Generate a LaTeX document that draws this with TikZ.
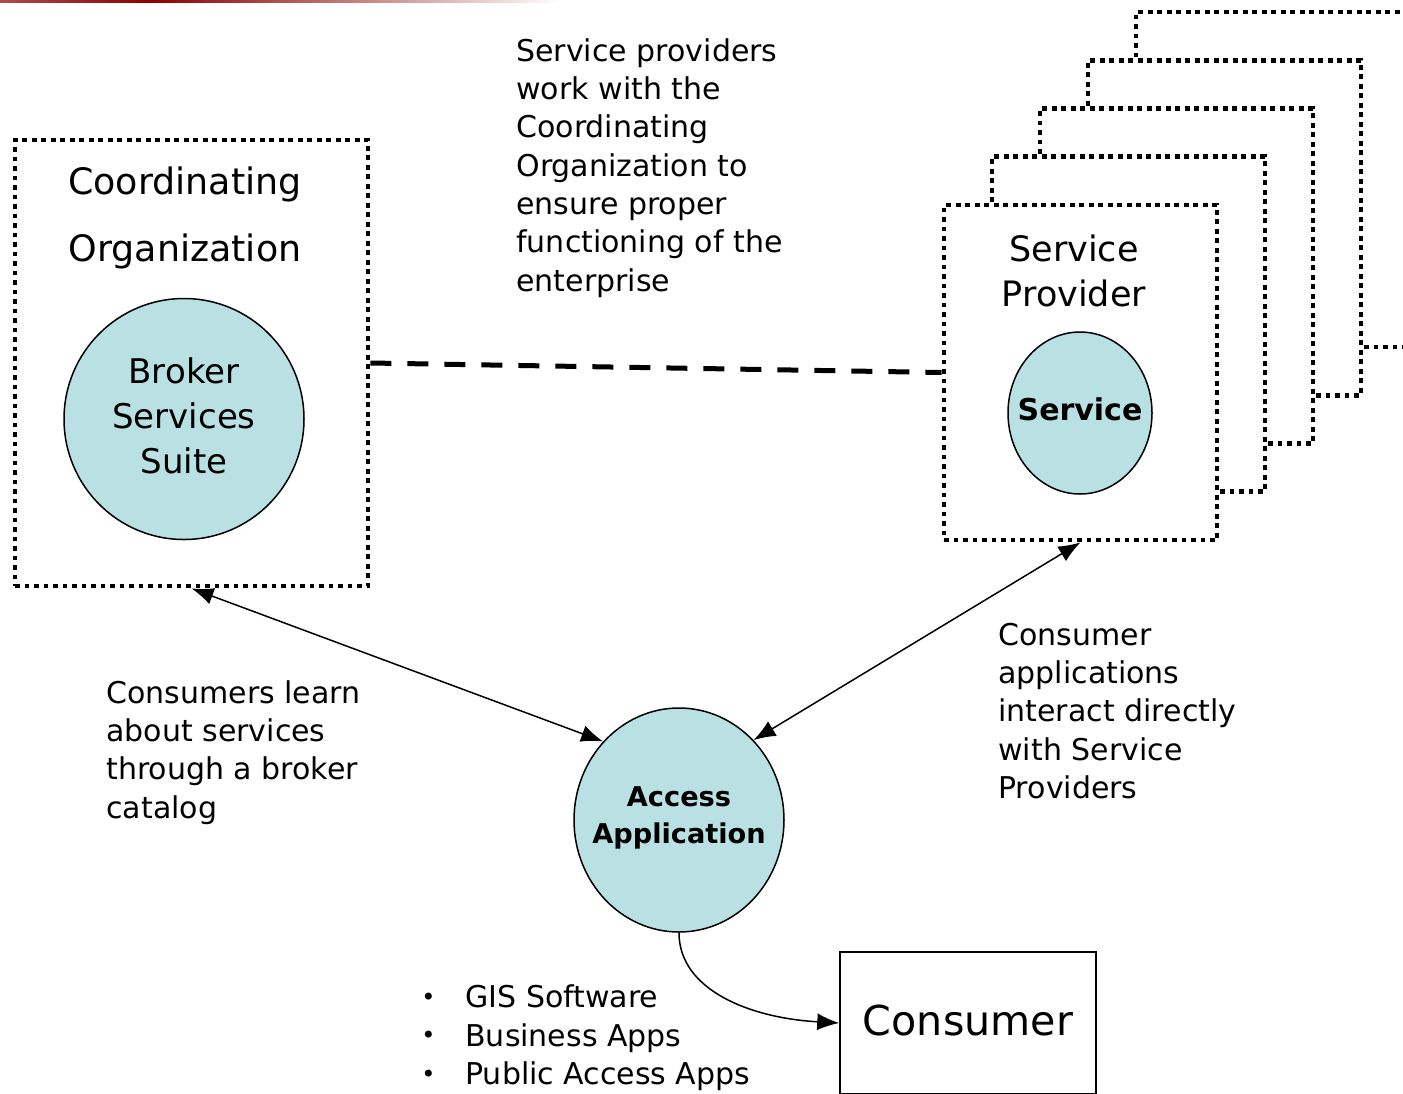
\documentclass[tikz,border=0pt]{standalone}
\usepackage{fontspec}
\setmainfont{DejaVu Sans}
\usetikzlibrary{shapes.geometric,arrows.meta}
\definecolor{bubblefill}{HTML}{B9E0E3}
\definecolor{slidered}{HTML}{8B0000}

\begin{document}
\begin{tikzpicture}[x=0.5pt,y=-0.5pt,
  dotbox/.style={draw, line width=2.4pt, dash pattern=on 2.4pt off 2.35pt, fill=white, inner sep=0},
  bubble/.style={ellipse, draw, line width=0.75pt, fill=bubblefill, inner sep=0},
  inlabel/.style={align=center, inner sep=0},
  body/.style={font=\fontsize{15}{19.15}\selectfont, align=left, inner sep=0},
  link/.style={line width=0.75pt, {Latex[length=11pt,width=8.5pt]}-{Latex[length=11pt,width=8.5pt]}},
  bul/.style={},
]
\useasboundingbox (0,0) rectangle (1403,1093);
\clip (0,0) rectangle (1403,1093);

% title rule of the slide
\shade[left color=slidered!70!white, right color=slidered] (0,0) rectangle (150,2.5);
\shade[left color=slidered, right color=white] (150,0) rectangle (560,2.5);

% coordinating organization
\node[dotbox, minimum width=176.5pt, minimum height=223pt] (coord) at (191.5,363) {};
\node[font=\fontsize{18.2}{33.5}\selectfont, inlabel] (coordlbl) at (185,217.5)
  {Coordinating\\Organization};
\node[bubble, minimum width=120pt, minimum height=120.5pt] (broker) at (184,419) {};
\node[inlabel, font=\fontsize{17}{22.5}\selectfont] (brokerlbl) at (184,416) {Broker\\Services\\Suite};

% stack of service providers, back to front
\foreach \i in {4,3,2,1,0} {
  \node[dotbox, minimum width=136.5pt, minimum height=167.5pt] (prov\i) at ({1080.5+48*\i},{372.5-48.25*\i}) {};
}
\node[font=\fontsize{17.5}{22.5}\selectfont, inlabel] (provlbl) at (1074,270.5)
  {Service\\Provider};
\node[bubble, minimum width=72pt, minimum height=81pt] (service) at (1080,413) {};
\node[inlabel, font=\bfseries\fontsize{15}{18}\selectfont] (servicelbl) at (1080,409) {Service};

% access application and consumer
\node[bubble, minimum width=105pt, minimum height=112pt] (access) at (679,820) {};
\node[inlabel, font=\bfseries\fontsize{13.6}{18.5}\selectfont] (accesslbl) at (679,817.5)
  {Access\\Application};
\node[draw, line width=0.75pt, minimum width=128pt, minimum height=71pt, inner sep=0] (consumer) at (968,1023) {};
\node[font=\fontsize{20.6}{24}\selectfont, inner sep=0] (consumerlbl) at (968,1020) {Consumer};

% connectors
\draw[line width=2.5pt, dash pattern=on 10.5pt off 8pt] (coord.east) -- (prov0.west);
\draw[link] (coord.south) -- (access.134);
\draw[link] (prov0.south) -- (access.47);
\draw[line width=0.75pt, -{Latex[length=11pt,width=8.5pt]}] (access.south)
  .. controls (679,990) and (750,1018) .. (consumer.west);

% annotations
\node[body, anchor=west] (notecoord) at (516,168)
  {Service providers\\work with the\\Coordinating\\Organization to\\ensure proper\\functioning of the\\enterprise};
\node[body, anchor=west] (notelearn) at (106,752.5)
  {Consumers learn\\about services\\through a broker\\catalog};
\node[body, anchor=west] (notedirect) at (998,711)
  {Consumer\\applications\\interact directly\\with Service\\Providers};
\newcommand\appbullet{\makebox[22pt][l]{\raisebox{1.2pt}{\fontsize{12}{12}\selectfont •}}}
\node[body, anchor=west] (apps) at (421,1038)
  {\appbullet GIS Software\\
   \appbullet Business Apps\\
   \appbullet Public Access Apps};
\end{tikzpicture}
\end{document}
